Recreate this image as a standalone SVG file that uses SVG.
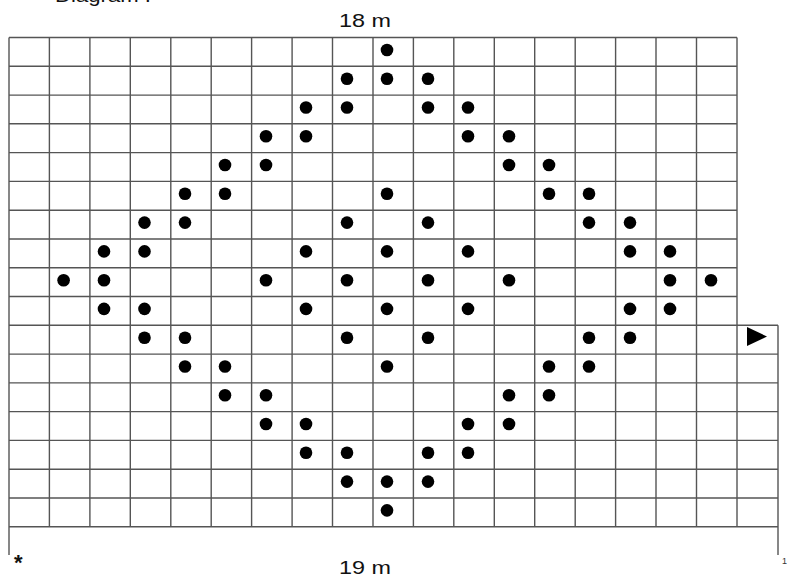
<svg xmlns="http://www.w3.org/2000/svg" width="787" height="581" viewBox="0 0 787 581">
<style>
.g{stroke:#555;stroke-width:1.4;fill:none}
.t{font-family:"Liberation Sans",Arial,sans-serif;font-size:18.5px;fill:#111}
</style>
<defs><circle id="d" r="6.3" fill="#000"/></defs>
<rect width="787" height="581" fill="#fff"/>
<text class="t" x="55" y="2" textLength="96" lengthAdjust="spacingAndGlyphs">Diagram I</text>
<text class="t" x="339" y="27" textLength="52" lengthAdjust="spacingAndGlyphs">18 m</text>
<text class="t" x="339" y="574" textLength="52" lengthAdjust="spacingAndGlyphs">19 m</text>
<text x="14" y="570" style="font-family:'Liberation Sans',Arial,sans-serif;font-size:22px;font-weight:bold;fill:#111">*</text>
<text x="782" y="564" style="font-family:'Liberation Sans',Arial,sans-serif;font-size:9px;fill:#333">1</text>
<g id="connectors">
<g id="grid" class="g">
<path d="M9,37.5H737M9,66.3H737M9,95.1H737M9,123.8H737M9,152.6H737M9,181.4H737M9,210.2H737M9,239H737M9,267.7H737M9,296.5H737M9,325.3H778M9,354.1H778M9,382.9H778M9,411.6H778M9,440.4H778M9,469.2H778M9,498H778M9,526.7H778"/>
<path d="M9,37.5V555M49.4,37.5V526.7M89.9,37.5V526.7M130.3,37.5V526.7M170.8,37.5V526.7M211.2,37.5V526.7M251.6,37.5V526.7M292.1,37.5V526.7M332.5,37.5V526.7M373,37.5V526.7M413.4,37.5V526.7M453.8,37.5V526.7M494.3,37.5V526.7M534.7,37.5V526.7M575.2,37.5V526.7M615.6,37.5V526.7M656,37.5V526.7M696.5,37.5V526.7M737,37.5V526.7M778,325.3V555"/>
</g>
</g>
<g id="dots">
<use href="#d" x="387" y="50"/>
<use href="#d" x="347" y="78.7"/><use href="#d" x="387" y="78.7"/><use href="#d" x="428" y="78.7"/>
<use href="#d" x="306" y="107.5"/><use href="#d" x="347" y="107.5"/><use href="#d" x="428" y="107.5"/><use href="#d" x="468" y="107.5"/>
<use href="#d" x="266" y="136.3"/><use href="#d" x="306" y="136.3"/><use href="#d" x="468" y="136.3"/><use href="#d" x="509" y="136.3"/>
<use href="#d" x="225" y="165"/><use href="#d" x="266" y="165"/><use href="#d" x="509" y="165"/><use href="#d" x="549" y="165"/>
<use href="#d" x="185" y="193.8"/><use href="#d" x="225" y="193.8"/><use href="#d" x="387" y="193.8"/><use href="#d" x="549" y="193.8"/><use href="#d" x="589" y="193.8"/>
<use href="#d" x="144.5" y="222.6"/><use href="#d" x="185" y="222.6"/><use href="#d" x="347" y="222.6"/><use href="#d" x="428" y="222.6"/><use href="#d" x="589" y="222.6"/><use href="#d" x="630" y="222.6"/>
<use href="#d" x="104" y="251.4"/><use href="#d" x="144.5" y="251.4"/><use href="#d" x="306" y="251.4"/><use href="#d" x="387" y="251.4"/><use href="#d" x="468" y="251.4"/><use href="#d" x="630" y="251.4"/><use href="#d" x="670" y="251.4"/>
<use href="#d" x="63.6" y="280.2"/><use href="#d" x="104" y="280.2"/><use href="#d" x="266" y="280.2"/><use href="#d" x="347" y="280.2"/><use href="#d" x="428" y="280.2"/><use href="#d" x="509" y="280.2"/><use href="#d" x="670" y="280.2"/><use href="#d" x="711" y="280.2"/>
<use href="#d" x="104" y="308.9"/><use href="#d" x="144.5" y="308.9"/><use href="#d" x="306" y="308.9"/><use href="#d" x="387" y="308.9"/><use href="#d" x="468" y="308.9"/><use href="#d" x="630" y="308.9"/><use href="#d" x="670" y="308.9"/>
<use href="#d" x="144.5" y="337.7"/><use href="#d" x="185" y="337.7"/><use href="#d" x="347" y="337.7"/><use href="#d" x="428" y="337.7"/><use href="#d" x="589" y="337.7"/><use href="#d" x="630" y="337.7"/>
<use href="#d" x="185" y="366.5"/><use href="#d" x="225" y="366.5"/><use href="#d" x="387" y="366.5"/><use href="#d" x="549" y="366.5"/><use href="#d" x="589" y="366.5"/>
<use href="#d" x="225" y="395.3"/><use href="#d" x="266" y="395.3"/><use href="#d" x="509" y="395.3"/><use href="#d" x="549" y="395.3"/>
<use href="#d" x="266" y="424"/><use href="#d" x="306" y="424"/><use href="#d" x="468" y="424"/><use href="#d" x="509" y="424"/>
<use href="#d" x="306" y="452.8"/><use href="#d" x="347" y="452.8"/><use href="#d" x="428" y="452.8"/><use href="#d" x="468" y="452.8"/>
<use href="#d" x="347" y="481.6"/><use href="#d" x="387" y="481.6"/><use href="#d" x="428" y="481.6"/>
<use href="#d" x="387" y="510.4"/>
</g>
<g id="arrow">
<polygon points="747,327 767,336.5 747,346" fill="#000"/>
</g>
</svg>
